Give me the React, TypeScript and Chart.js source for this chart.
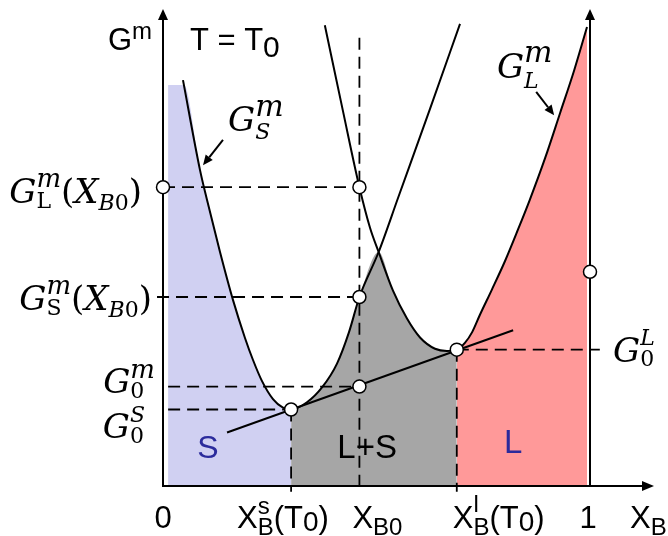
import React, { useEffect, useRef } from 'react';
import { Chart, registerables } from 'chart.js';

Chart.register(...registerables);

// Molar Gibbs energy of solid (S) and liquid (L) against X_B at T = T0 (arbitrary units)
const xBs = 0.30; // X_B^s(T0)
const xB0 = 0.46; // overall composition X_B0
const xBl = 0.688; // X_B^l(T0)
const xCross = 0.505; // where the two curves cross

const gLatXB0 = 66.4; // G_L^m(X_B0)
const gSatXB0 = 42.0; // G_S^m(X_B0)
const g0m = 22.1; // G_0^m on the common tangent
const g0S = 17.0; // G_0^S
const g0L = 30.3; // G_0^L
const gAtOne = 47.6; // marked value on X_B = 1

const solidX = [0.0468, 0.0867, 0.103, 0.1335, 0.164, 0.192, 0.2108, 0.2319, 0.2576, 0.281, 0.3, 0.3372, 0.3724, 0.4075, 0.4356, 0.46, 0.505, 0.5504, 0.6253, 0.6956];
const solidG = [90.2, 70.2, 63.6, 52.0, 41.3, 32.9, 28.0, 23.3, 19.3, 17.4, 17.0, 18.6, 21.9, 27.2, 34.2, 42.0, 52.0, 64.0, 83.8, 102.7];

const liquidX = [0.379, 0.4215, 0.46, 0.4848, 0.505, 0.5386, 0.5714, 0.6019, 0.637, 0.665, 0.688, 0.707, 0.724, 0.742, 0.77, 0.801, 0.831, 0.859, 0.895, 0.93, 0.963, 0.993];
const liquidG = [102.4, 83.3, 66.4, 57.4, 52.0, 43.4, 37.2, 33.0, 30.5, 30.0, 30.3, 31.8, 34.2, 38.0, 43.6, 50.0, 56.9, 63.6, 72.9, 82.9, 92.4, 102.0];

// common tangent line end points
const tieX = [0.15, 0.82];
const tieG = [11.9, 34.6];

// S region: flat top, then bounded by the solid curve
const sRegionTop = 89.1;
const sRegionLeft = 0.012;
const sRegionCorner = 0.049;

// guide line extents
const guideLeftTick = -0.014;
const guideBelowAxis = -1.3;
const guideTopB0 = 99.6;
const guideRightL = 1.023;

const pts = (xs: number[], ys: number[]) => xs.map((x, i) => ({ x, y: ys[i] }));
const solidPts = pts(solidX, solidG);
const liquidPts = pts(liquidX, liquidG);

const SANS = '"Liberation Sans", Arial, sans-serif';
const SERIF = '"DejaVu Serif", serif';
const sans = (s: number) => `${s}px ${SANS}`;
const it = (s: number) => `italic ${s}px ${SERIF}`;
const up = (s: number) => `${s}px ${SERIF}`;

type Run = { t: string; font: string; dy?: number; color?: string };
type Item = Run | { sup: Run; sub: Run };

function itemWidth(ctx: CanvasRenderingContext2D, item: Item): number {
  if ('t' in item) {
    ctx.font = item.font;
    return ctx.measureText(item.t).width;
  }
  return Math.max(itemWidth(ctx, item.sup), itemWidth(ctx, item.sub));
}

function drawItems(ctx: CanvasRenderingContext2D, items: Item[], x: number, y: number, align: 'left' | 'right' | 'center', color = '#000') {
  const total = items.reduce((s, i) => s + itemWidth(ctx, i), 0);
  let cx = align === 'left' ? x : align === 'right' ? x - total : x - total / 2;
  ctx.textBaseline = 'alphabetic';
  ctx.textAlign = 'left';
  for (const item of items) {
    const w = itemWidth(ctx, item);
    const runs = 't' in item ? [item] : [item.sup, item.sub];
    for (const r of runs) {
      ctx.font = r.font;
      ctx.fillStyle = r.color || color;
      ctx.fillText(r.t, cx, y + (r.dy || 0));
    }
    cx += w;
  }
}

function arrow(ctx: CanvasRenderingContext2D, x1: number, y1: number, x2: number, y2: number, len: number, half: number, width = 2) {
  const a = Math.atan2(y2 - y1, x2 - x1);
  const bx = x2 - Math.cos(a) * len;
  const by = y2 - Math.sin(a) * len;
  ctx.strokeStyle = '#000';
  ctx.lineWidth = width;
  ctx.beginPath();
  ctx.moveTo(x1, y1);
  ctx.lineTo(bx, by);
  ctx.stroke();
  ctx.fillStyle = '#000';
  ctx.beginPath();
  ctx.moveTo(x2, y2);
  ctx.lineTo(bx + Math.sin(a) * half, by - Math.cos(a) * half);
  ctx.lineTo(bx - Math.sin(a) * half, by + Math.cos(a) * half);
  ctx.closePath();
  ctx.fill();
}

const axesPlugin = {
  id: 'gibbsAxes',
  afterDatasetDraw(chart: any, args: any) {
    if (chart.data.datasets[args.index].label !== 'S region') return;
    const { ctx, scales } = chart;
    const x0 = scales.x.getPixelForValue(0);
    const x1 = scales.x.getPixelForValue(1);
    const y0 = scales.y.getPixelForValue(0);
    ctx.save();
    arrow(ctx, x0, y0 + 1, x0, 9, 11, 5);
    arrow(ctx, x0 - 1, y0, 654, y0, 12, 5);
    arrow(ctx, x1, y0, x1, 9, 11, 5);
    ctx.restore();
  },
};

const labelsPlugin = {
  id: 'gibbsLabels',
  afterDraw(chart: any) {
    const { ctx, scales } = chart;
    const X = (v: number) => scales.x.getPixelForValue(v);
    const Y = (v: number) => scales.y.getPixelForValue(v);
    const x0 = X(0);
    const x1 = X(1);
    const yAxis = Y(0);
    ctx.save();

    // axis titles
    drawItems(ctx, [{ t: 'G', font: sans(31) }, { t: 'm', font: sans(24), dy: -11 }], x0 - 11, Y(96.9), 'right');
    drawItems(ctx, [{ t: 'T = T', font: sans(31) }, { t: '0', font: sans(30), dy: 7 }], X(0.063), Y(96.9), 'left');

    // curve names with pointers
    drawItems(ctx, [{ t: 'G', font: it(34) }, { sup: { t: 'm', font: it(30), dy: -15 }, sub: { t: 'S', font: it(22), dy: 8 } }], X(0.1522), Y(78.9), 'left');
    arrow(ctx, X(0.1405), Y(76.9), X(0.0937), Y(71.3), 10, 4.5);
    drawItems(ctx, [{ t: 'G', font: it(34) }, { sup: { t: 'm', font: it(30), dy: -16 }, sub: { t: 'L', font: it(22), dy: 10 } }], X(0.782), Y(90.7), 'left');
    arrow(ctx, X(0.874), Y(87.6), X(0.916), Y(82.4), 10, 4.5);

    // energy levels on the G axis
    const xb0: Item[] = [
      { t: '(', font: up(34) },
      { t: 'X', font: it(34) },
      { t: 'B', font: it(22), dy: 7 },
      { t: '0', font: up(22), dy: 7 },
      { t: ')', font: up(34) },
    ];
    drawItems(ctx, [{ t: 'G', font: it(34) }, { sup: { t: 'm', font: it(26), dy: -16 }, sub: { t: 'L', font: up(22), dy: 5 } }, ...xb0], x0 - 21, Y(gLatXB0) + 16, 'right');
    drawItems(ctx, [{ t: 'G', font: it(34) }, { sup: { t: 'm', font: it(26), dy: -16 }, sub: { t: 'S', font: up(22), dy: 5 } }, ...xb0], x0 - 11, Y(gSatXB0) + 13, 'right');
    drawItems(ctx, [{ t: 'G', font: it(34) }, { sup: { t: 'm', font: it(26), dy: -15 }, sub: { t: '0', font: up(22), dy: 5 } }], x0 - 8, Y(g0m) + 6, 'right');
    drawItems(ctx, [{ t: 'G', font: it(34) }, { sup: { t: 'S', font: it(22), dy: -16 }, sub: { t: '0', font: up(22), dy: 5 } }], x0 - 18, Y(g0S) + 28, 'right');
    drawItems(ctx, [{ t: 'G', font: it(34) }, { sup: { t: 'L', font: it(22), dy: -17 }, sub: { t: '0', font: up(22), dy: 4 } }], x1 + 23, Y(g0L) + 12, 'left');

    // composition axis labels
    const base = yAxis + 42;
    const t0: Item[] = [
      { t: '(T', font: sans(31) },
      { t: '0', font: sans(28), dy: 3 },
      { t: ')', font: sans(31) },
    ];
    drawItems(ctx, [{ t: '0', font: sans(31) }], x0, base, 'center');
    drawItems(ctx, [{ t: 'X', font: sans(31) }, { sup: { t: 's', font: sans(24), dy: -14 }, sub: { t: 'B', font: sans(24), dy: 7 } }, ...t0], X(xBs) - 54, base, 'left');
    drawItems(ctx, [{ t: 'X', font: sans(31) }, { t: 'B0', font: sans(24), dy: 7 }], X(xB0) - 7, base, 'left');
    drawItems(ctx, [{ t: 'X', font: sans(31) }, { sup: { t: 'l', font: sans(24), dy: -16 }, sub: { t: 'B', font: sans(24), dy: 7 } }, ...t0], X(xBl) - 4, base, 'left');
    drawItems(ctx, [{ t: '1', font: sans(31) }], x1 - 2, base, 'center');
    drawItems(ctx, [{ t: 'X', font: sans(31) }, { t: 'B', font: sans(24), dy: 7 }], 630, base, 'left');

    // phase fields
    drawItems(ctx, [{ t: 'S', font: sans(32) }], X(0.105), yAxis - 28, 'center', '#2b2b9c');
    drawItems(ctx, [{ t: 'L+S', font: sans(33) }], X(0.478), yAxis - 28, 'center');
    drawItems(ctx, [{ t: 'L', font: sans(33) }], X(0.82), yAxis - 33, 'center', '#2b2b9c');

    ctx.restore();
  },
};

export default function App() {
  const ref = useRef<HTMLCanvasElement>(null);

  useEffect(() => {
    const canvas = ref.current;
    if (!canvas) return;

    const dash = (a: [number, number], b: [number, number]) => ({
      label: 'guide',
      data: [{ x: a[0], y: a[1] }, { x: b[0], y: b[1] }],
      borderColor: '#000',
      borderWidth: 1.8,
      borderDash: [12, 7],
      pointRadius: 0,
      tension: 0,
      fill: false,
      order: 2,
      clip: false as const,
    });

    const region = (label: string, data: { x: number; y: number }[], color: string) => ({
      label,
      data,
      borderColor: 'rgba(0,0,0,0)',
      borderWidth: 0,
      backgroundColor: color,
      pointRadius: 0,
      cubicInterpolationMode: 'monotone' as const,
      fill: 'origin',
      order: 3,
      clip: false as const,
    });

    const sRegion = [
      { x: sRegionLeft, y: sRegionTop },
      { x: sRegionCorner, y: sRegionTop },
      ...solidPts.filter((p) => p.x > sRegionCorner && p.x <= xBs),
    ];
    const lsRegion = [
      ...solidPts.filter((p) => p.x >= xBs && p.x <= xCross),
      ...liquidPts.filter((p) => p.x > xCross && p.x <= xBl),
    ];
    const lRegion = liquidPts.filter((p) => p.x >= xBl);

    const curve = (label: string, data: { x: number; y: number }[]) => ({
      label,
      data,
      borderColor: '#000',
      borderWidth: 2,
      pointRadius: 0,
      cubicInterpolationMode: 'monotone' as const,
      fill: false,
      order: 1,
      clip: false as const,
    });

    const chart = new Chart(canvas, {
      type: 'line',
      data: {
        datasets: [
          {
            label: 'marked points',
            data: [
              { x: 0, y: gLatXB0 },
              { x: xB0, y: gLatXB0 },
              { x: xB0, y: gSatXB0 },
              { x: xB0, y: g0m },
              { x: xBs, y: g0S },
              { x: xBl, y: g0L },
              { x: 1, y: gAtOne },
            ],
            showLine: false,
            pointRadius: 6.5,
            pointBackgroundColor: '#fff',
            pointBorderColor: '#000',
            pointBorderWidth: 1.5,
            order: 0,
            clip: false,
          } as any,
          curve('G_S', solidPts),
          curve('G_L', liquidPts),
          { ...curve('tangent', pts(tieX, tieG)), cubicInterpolationMode: 'default', tension: 0 },
          dash([0, gLatXB0], [xB0, gLatXB0]),
          dash([guideLeftTick, gSatXB0], [xB0, gSatXB0]),
          dash([sRegionLeft, g0m], [xB0, g0m]),
          dash([sRegionLeft, g0S], [xBs, g0S]),
          dash([xBl, g0L], [guideRightL, g0L]),
          dash([xB0, guideTopB0], [xB0, guideBelowAxis]),
          dash([xBs, g0S], [xBs, guideBelowAxis]),
          dash([xBl, g0L], [xBl, guideBelowAxis]),
          region('S region', sRegion, '#d0d0f2'),
          region('L+S region', lsRegion, '#a6a6a6'),
          region('L region', lRegion, '#ff9999'),
        ] as any,
      },
      options: {
        responsive: false,
        animation: false,
        devicePixelRatio: 1,
        events: [],
        layout: { autoPadding: false, padding: { left: 163, right: 78, top: 0, bottom: 50 } },
        scales: {
          x: { type: 'linear', min: 0, max: 1, display: false },
          y: { type: 'linear', min: 0, max: 108, display: false },
        },
        plugins: {
          legend: { display: false },
          tooltip: { enabled: false },
        },
      },
      plugins: [axesPlugin, labelsPlugin],
    });

    return () => chart.destroy();
  }, []);

  return (
    <div style={{ position: 'absolute', left: 0, top: 0, width: 668, height: 536, background: '#fff' }}>
      <canvas ref={ref} width={668} height={536} style={{ display: 'block' }} />
    </div>
  );
}
